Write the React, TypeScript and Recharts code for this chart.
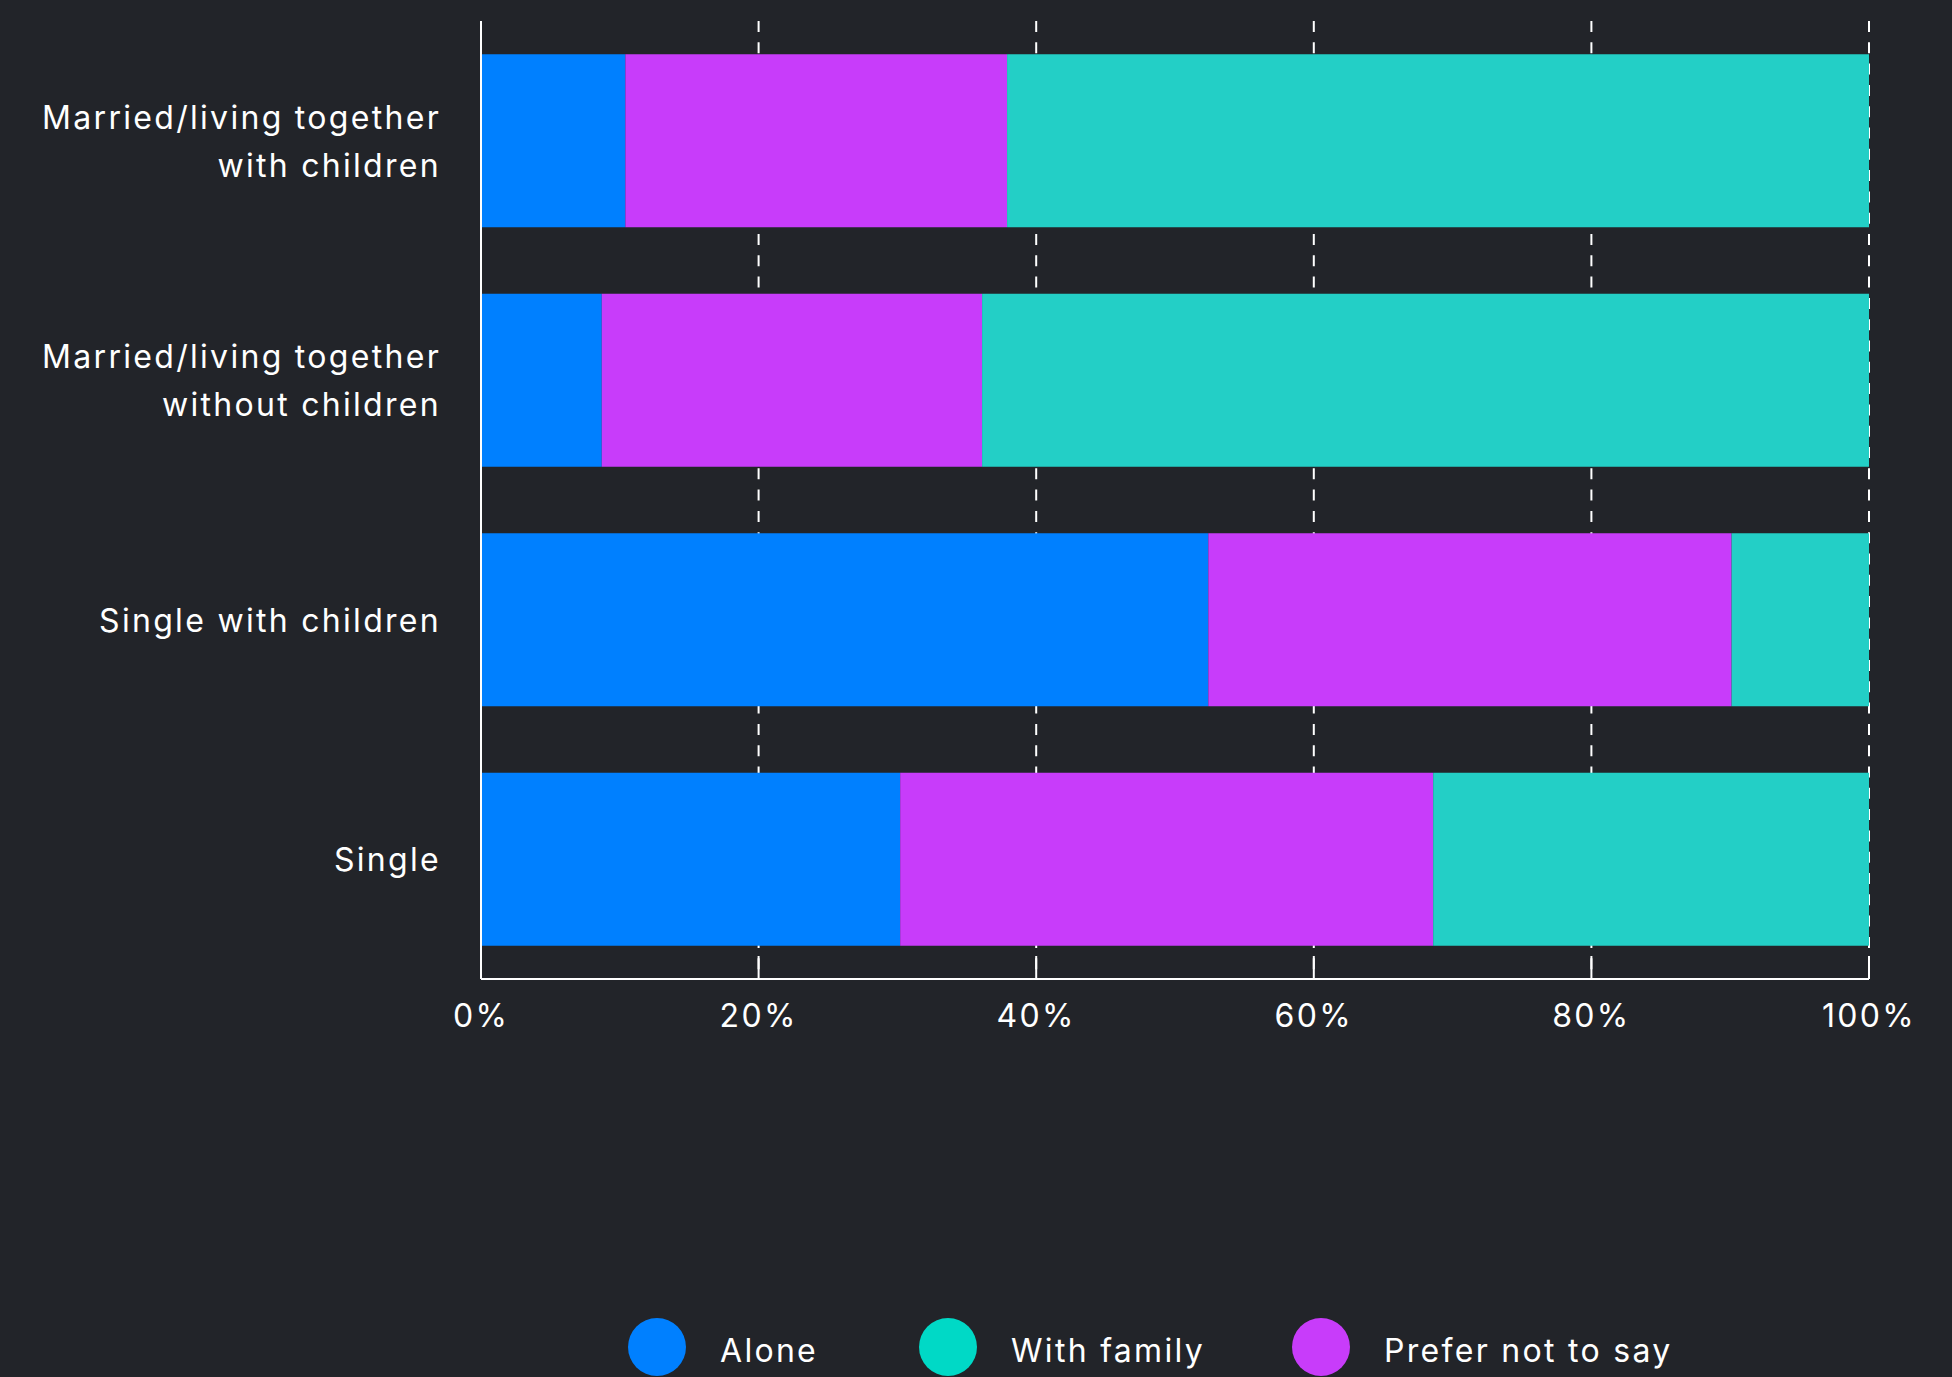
import React from 'react';
import { BarChart, Bar, XAxis, YAxis, CartesianGrid, Legend } from 'recharts';

const categories = [
  'Married/living together with children',
  'Married/living together without children',
  'Single with children',
  'Single',
];
const alone = [10.4, 8.7, 52.4, 30.2];
const preferNotToSay = [27.5, 27.4, 37.7, 38.4];
const withFamily = [62.1, 64.0, 10.0, 31.5];
const xTicks = [0, 20, 40, 60, 80, 100];
const legendNames = ['Alone', 'With family', 'Prefer not to say'];

const FONT = 'Inter, "DejaVu Sans", sans-serif';
const SPACING = 2.3;
const BLUE = '#0080ff';
const PURPLE = '#c83cfa';
const TEAL = '#23cfc6';
const legendColors = [BLUE, '#00d9c6', PURPLE];
const legendWidths = [291, 373, 400];

const data = categories.map((name, i) => ({
  name,
  alone: alone[i],
  prefer: preferNotToSay[i],
  family: withFamily[i],
}));

// break long labels into lines of max ~24 chars
const wrap = (s: string, max = 24) => {
  const lines: string[] = [];
  let cur = '';
  s.split(' ').forEach((w) => {
    const next = cur ? cur + ' ' + w : w;
    if (next.length > max && cur) {
      lines.push(cur);
      cur = w;
    } else {
      cur = next;
    }
  });
  if (cur) lines.push(cur);
  return lines;
};

const YTick = (props: any) => {
  const { x, y, payload } = props;
  const lines = wrap(payload.value);
  const lh = 48;
  return (
    <text
      x={x}
      y={y}
      textAnchor="end"
      fill="#fff"
      fontSize={32}
      fontFamily={FONT}
      letterSpacing={SPACING}
      dominantBaseline="central"
    >
      {lines.map((l, i) => (
        <tspan key={i} x={x} dy={i === 0 ? -((lines.length - 1) * lh) / 2 : lh}>
          {l}
        </tspan>
      ))}
    </text>
  );
};

const LegendContent = () => (
  <div style={{ display: 'flex', alignItems: 'center', height: 60, paddingLeft: 628, fontFamily: FONT }}>
    {legendNames.map((name, i) => (
      <div key={name} style={{ display: 'flex', alignItems: 'center', width: legendWidths[i], flexShrink: 0 }}>
        <span style={{ width: 58, height: 58, borderRadius: '50%', background: legendColors[i], marginRight: 34 }} />
        <span style={{ color: '#fff', fontSize: 32, marginTop: 6, letterSpacing: SPACING }}>{name}</span>
      </div>
    ))}
  </div>
);

const App: React.FC = () => {
  return (
    <div style={{ position: 'absolute', left: 0, top: 0, width: 1952, height: 1377, background: '#222429', overflow: 'hidden' }}>
      <BarChart
        width={1952}
        height={1377}
        data={data}
        layout="vertical"
        barCategoryGap="13.9%"
        margin={{ top: 21, right: 83, left: 0, bottom: 0 }}
      >
        <CartesianGrid horizontal={false} stroke="#fff" strokeWidth={2} strokeDasharray="11 10.3" />
        <XAxis
          type="number"
          domain={[0, 100]}
          ticks={xTicks}
          allowDataOverflow
          tickFormatter={(v) => `${v}%`}
          height={338}
          axisLine={{ stroke: '#fff', strokeWidth: 2 }}
          tickLine={{ stroke: '#fff', strokeWidth: 2 }}
          tickSize={-23}
          tickMargin={48}
          tick={{ fill: '#fff', fontSize: 32, fontFamily: FONT, letterSpacing: SPACING }}
        />
        <YAxis
          type="category"
          dataKey="name"
          width={481}
          axisLine={{ stroke: '#fff', strokeWidth: 2 }}
          tickLine={false}
          tickSize={0}
          tickMargin={40}
          tick={<YTick />}
        />
        <Legend
          verticalAlign="bottom"
          content={<LegendContent />}
          wrapperStyle={{ left: 0, width: 1952, bottom: 0 }}
        />
        <Bar dataKey="alone" name="Alone" stackId="a" fill={BLUE} isAnimationActive={false} />
        <Bar dataKey="prefer" name="Prefer not to say" stackId="a" fill={PURPLE} isAnimationActive={false} />
        <Bar dataKey="family" name="With family" stackId="a" fill={TEAL} isAnimationActive={false} />
      </BarChart>
    </div>
  );
};

export default App;
